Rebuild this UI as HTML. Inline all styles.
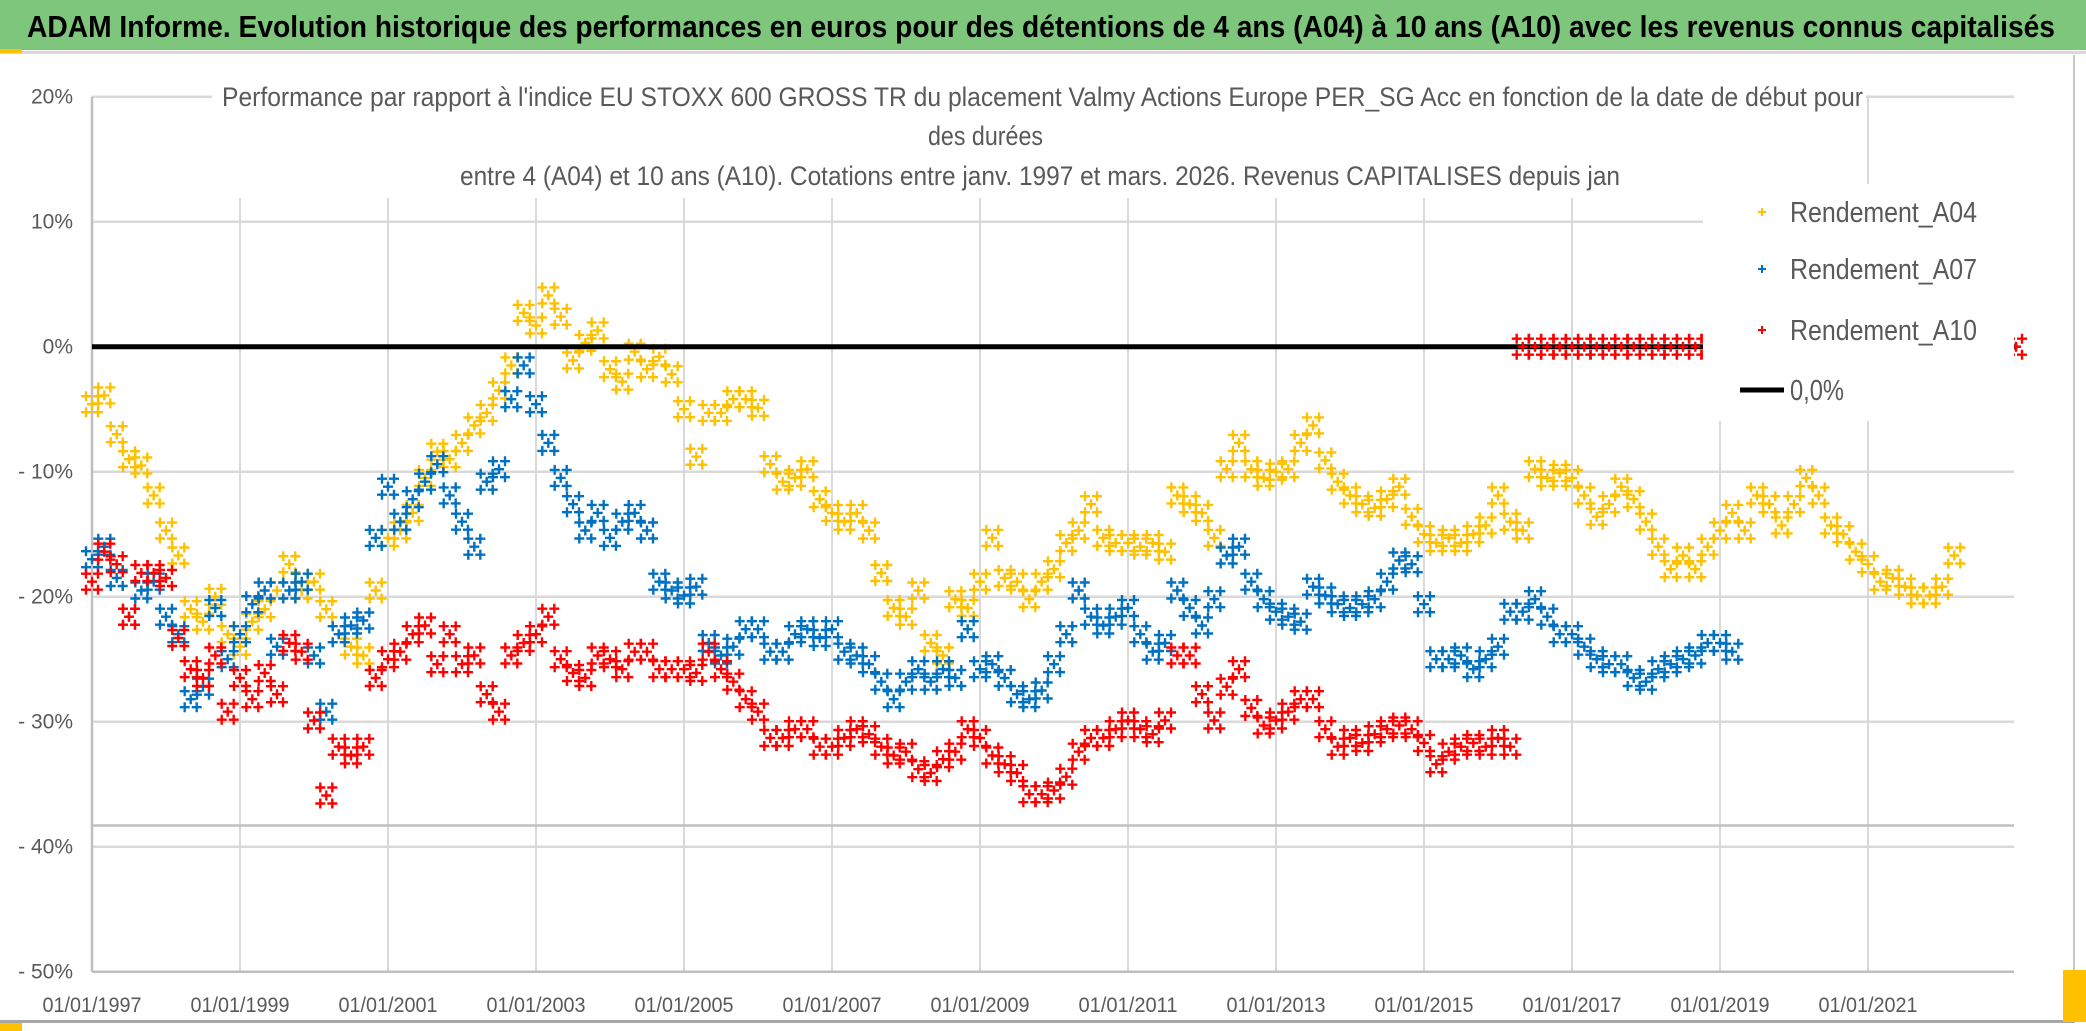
<!DOCTYPE html>
<html><head><meta charset="utf-8">
<style>
html,body{margin:0;padding:0;background:#fff;}
svg{display:block;}
text{font-family:"Liberation Sans",sans-serif;}
</style></head>
<body>
<svg id="chart" width="2086" height="1031" viewBox="0 0 2086 1031" xmlns="http://www.w3.org/2000/svg">
  <rect x="0" y="0" width="2086" height="1031" fill="#fff"/>
  <rect x="0" y="0" width="2086" height="50" fill="#7DC67B"/>
  <rect x="0" y="51" width="2086" height="3" fill="#d9d9d9"/>
  <rect x="0" y="49" width="22" height="4" fill="#FFC000"/>
  <text x="27" y="37" font-size="31" font-weight="bold" fill="#000" textLength="2028" lengthAdjust="spacingAndGlyphs">ADAM Informe. Evolution historique des performances en euros pour des détentions de 4 ans (A04) à 10 ans (A10) avec les revenus connus capitalisés</text>
  <g id="grid"></g>
  <g id="series"></g>
  <rect x="212" y="60" width="1654" height="138" fill="#fff"/>
  <text x="222" y="106" font-size="27" fill="#595959" textLength="1641" lengthAdjust="spacingAndGlyphs">Performance par rapport à l'indice EU STOXX 600 GROSS TR  du placement Valmy Actions Europe PER_SG Acc en fonction de la date de début pour</text>
  <text x="928" y="145" font-size="27" fill="#595959" textLength="115" lengthAdjust="spacingAndGlyphs">des durées</text>
  <text x="460" y="185" font-size="27" fill="#595959" textLength="1160" lengthAdjust="spacingAndGlyphs">entre 4 (A04) et 10 ans (A10). Cotations entre janv. 1997 et mars. 2026. Revenus CAPITALISES depuis jan</text>
  <g id="legend">
    <rect x="1703" y="184" width="311" height="237" fill="#fff"/>
  </g>
  <g id="yaxis"></g>
  <g id="xaxis"></g>
  <rect x="2073" y="55" width="2" height="967" fill="#c8c8c8"/>
  <rect x="0" y="1020" width="2075" height="3" fill="#a6a6a6"/>
  <rect x="2063" y="970" width="23" height="52" fill="#FFC000"/>
  <rect x="0" y="1023" width="22" height="8" fill="#FFC000"/>
</svg>
<script>
const startYear = 1997;
const stepYear = 1/6;
const yTicks = [20, 10, 0, -10, -20, -30, -40, -50];
const yTickLabels = ["20%", "10%", "0%", "- 10%", "- 20%", "- 30%", "- 40%", "- 50%"];
const xTickYears = [1997, 1999, 2001, 2003, 2005, 2007, 2009, 2011, 2013, 2015, 2017, 2019, 2021];
const xTickLabels = ["01/01/1997","01/01/1999","01/01/2001","01/01/2003","01/01/2005","01/01/2007","01/01/2009","01/01/2011","01/01/2013","01/01/2015","01/01/2017","01/01/2019","01/01/2021"];
const refLineValue = -38.3;
const zeroValue = 0;
const zeroEndYear = 2023;
const A04 = [
-4.6,-3.9,-7,-9,-9.5,-11.9,
-14.7,-16.7,-21,-22,-20,-23,
-24,-22,-21,-19.5,-17.4,-19.5,
-18.8,-21,-23,-24,-24.7,-19.5,
-15.3,-14.7,-13.3,-10.5,-8.4,-9,
-7.7,-6.3,-5.3,-3.5,-1.5,2.7,
1.7,4.1,2.4,-1.1,0.3,1.3,
-1.8,-2.8,-0.4,-1.8,-0.8,-2.2,
-5,-8.8,-5.3,-5.3,-4.2,-4.2,
-4.9,-9.4,-10.8,-10.5,-9.8,-12.2,
-13.3,-14,-13.3,-14.7,-18.1,-20.9,
-21.6,-19.5,-23.7,-24.7,-20.2,-20.9,
-18.8,-15.3,-18.5,-18.8,-20.2,-18.8,
-17.8,-15.7,-14.7,-12.6,-15.3,-15.7,
-15.7,-16,-15.7,-16.4,-11.9,-12.6,
-13.3,-15.3,-9.8,-7.7,-9.8,-10.5,
-10,-9.8,-7.7,-6.3,-9.1,-10.8,
-11.9,-12.6,-12.9,-12.2,-11.2,-13.6,
-15,-15.7,-15.3,-15.7,-15,-14.3,
-11.9,-14,-14.7,-9.8,-10.5,-10.1,
-10.5,-11.9,-13.6,-12.6,-11.2,-12.2,
-14,-16,-17.8,-16.7,-17.8,-16,
-14.7,-13.3,-14.7,-11.9,-12.6,-14.3,
-12.6,-10.5,-11.9,-14.3,-15,-16.4,
-17.4,-18.8,-18.5,-19.2,-19.9,-19.9,
-19.2,-16.7];
const A07 = [
-17,-16,-18.5,-21.6,-19.5,-18.8,
-21.6,-23,-28.2,-27.2,-20.9,-25,
-23,-20.6,-19.5,-24,-19.5,-18.8,
-24.7,-29.2,-23,-22.3,-21.9,-15.3,
-11.2,-14,-12.2,-10.8,-9.4,-11.9,
-14,-16,-10.8,-9.8,-4.2,-1.5,
-4.6,-7.7,-10.5,-12.6,-14.7,-13.3,
-15.3,-14,-13.3,-14.7,-18.8,-19.5,
-19.9,-19.2,-23.7,-24.7,-24,-22.6,
-22.6,-24.4,-24.4,-23,-22.6,-23.3,
-22.6,-24.4,-24.7,-25.4,-26.8,-28.2,
-26.8,-25.8,-26.8,-25.8,-26.5,-22.6,
-25.8,-25.4,-26.5,-27.8,-28.2,-27.5,
-25.4,-23,-19.5,-21.6,-22.3,-21.6,
-20.9,-23,-24.4,-23.7,-19.5,-20.9,
-22.3,-20.2,-16.7,-16,-18.8,-20.2,
-21.2,-21.6,-22,-19.2,-19.9,-20.6,
-20.9,-20.6,-20.2,-18.8,-17.1,-17.4,
-20.6,-25,-25,-24.7,-25.8,-25,
-24,-21.2,-21.2,-20.2,-21.6,-23,
-23,-24,-25,-25.4,-25.4,-26.5,
-26.8,-25.8,-25.4,-25,-24.7,-23.7,
-23.7,-24.4];
const A10 = [
-18.8,-16.4,-17.4,-21.6,-18.1,-18.1,
-18.5,-23.3,-25.8,-26.5,-24.7,-29.2,
-26.5,-28.2,-26.1,-27.8,-23.7,-24.4,
-29.9,-35.9,-32,-32.7,-32,-26.5,
-25,-24.4,-23,-22.3,-25.4,-23,
-25.4,-24.7,-27.8,-29.2,-24.7,-23.7,
-23,-21.6,-25,-26.1,-26.5,-24.7,
-25,-25.8,-24.4,-24.4,-25.8,-25.8,
-25.8,-26.1,-24.4,-25.8,-26.8,-28.2,
-29.2,-31.3,-31.3,-30.6,-30.6,-32,
-32,-31.3,-30.6,-31,-32,-32.7,
-32.4,-33.8,-34.1,-33,-32.4,-30.6,
-31.3,-32.7,-33.4,-34.1,-35.8,-35.8,
-35.5,-34.4,-32.4,-31.3,-31.3,-30.6,
-29.9,-30.6,-31,-29.9,-24.7,-24.7,
-27.8,-29.9,-27.2,-25.8,-28.9,-30.3,
-29.9,-29.2,-28.2,-28.2,-30.6,-32,
-31.3,-31.7,-31,-30.6,-30.3,-30.6,
-31.7,-33.4,-32.4,-32,-31.7,-32,
-31.3,-32,0,0,0,0,
0,0,0,0,0,0, 0,0,0,0,0,0, 0,0,0,0,0,0,
0,0,0,0,0,0, 0,0,0,0,0,0, 0,0,0,0,0,0,
0];

const NS = "http://www.w3.org/2000/svg";
const PX0 = 92, PX1 = 2014, PY_TOP = 96.7, PY_BOT = 971.7;
function xScale(year){ return PX0 + (year - 1997) * 74; }
function yScale(v){ return PY_TOP + (20 - v) * 12.5; }
function mk(tag, attrs, parent){
  const e = document.createElementNS(NS, tag);
  for (const k in attrs) e.setAttribute(k, attrs[k]);
  parent.appendChild(e);
  return e;
}
const grid = document.getElementById('grid');
const yaxis = document.getElementById('yaxis');
const xaxis = document.getElementById('xaxis');
const series = document.getElementById('series');
const legend = document.getElementById('legend');

yTicks.forEach((t, i) => {
  const l = mk('line', {x1:PX0, x2:PX1, y1:yScale(t), y2:yScale(t), stroke:'#d9d9d9', 'stroke-width':2.5}, grid);
  
  
  const tx = mk('text', {x:73, y:yScale(t)+7, 'font-size':21, fill:'#595959', 'text-anchor':'end'}, yaxis);
  tx.textContent = yTickLabels[i];
  
  
});
xTickYears.forEach((yr, i) => {
  const x = xScale(yr);
  const top = (x > 212 && x < 1866) ? 198 : PY_TOP;
  const l = mk('line', {x1:x, x2:x, y1:top, y2:PY_BOT, stroke:'#d9d9d9', 'stroke-width':2}, grid);
  
  
  const tx = mk('text', {x:x, y:1012, 'font-size':21, fill:'#595959', 'text-anchor':'middle', textLength:99, lengthAdjust:'spacingAndGlyphs'}, xaxis);
  tx.textContent = xTickLabels[i];
  
  
});
const yAxisLine = mk('line', {x1:PX0, x2:PX0, y1:PY_TOP, y2:PY_BOT, stroke:'#bfbfbf', 'stroke-width':2.5}, grid);


const xAxisLine = mk('line', {x1:PX0, x2:PX1, y1:PY_BOT, y2:PY_BOT, stroke:'#bfbfbf', 'stroke-width':2.5}, grid);


const refLine = mk('line', {x1:PX0, x2:PX1, y1:yScale(refLineValue), y2:yScale(refLineValue), stroke:'#bfbfbf', 'stroke-width':2.5}, grid);



function plusPath(x, y, a){ return `M${(x-a).toFixed(1)} ${y.toFixed(1)}h${2*a}M${x.toFixed(1)} ${(y-a).toFixed(1)}v${2*a}`; }
const clusterOffsets = [[-6,-8],[0,0],[6,8],[-6,8],[6,-8]];
function drawSeries(vals, color, name){
  let d = '';
  vals.forEach((v, i) => {
    const x = xScale(startYear + i*stepYear);
    const y = yScale(v);
    clusterOffsets.forEach(o => { d += plusPath(x + o[0], y + o[1], 5); });
  });
  const p = mk('path', {d:d, stroke:color, 'stroke-width':2.4, fill:'none'}, series);
  
  
}
drawSeries(A04, '#FFC000', 'series-rendement-a04');
drawSeries(A07, '#0070C0', 'series-rendement-a07');
const zl = mk('line', {x1:PX0, x2:xScale(zeroEndYear), y1:yScale(zeroValue), y2:yScale(zeroValue), stroke:'#000', 'stroke-width':5}, series);


drawSeries(A10, '#FF0000', 'series-rendement-a10');
(function(){
  const m = mk('path', {d:plusPath(2016, yScale(zeroValue), 4), stroke:'#FF0000', 'stroke-width':2.6}, series);
  
  
})();

const legendItems = [
  {label:'Rendement_A04', color:'#FFC000', y:212, line:false},
  {label:'Rendement_A07', color:'#0070C0', y:269, line:false},
  {label:'Rendement_A10', color:'#FF0000', y:330, line:false},
  {label:'0,0%', color:'#000', y:390, line:true}
];
legendItems.forEach(it => {
  const g = mk('g', {}, legend);
  
  
  if (it.line) {
    mk('line', {x1:1740, x2:1784, y1:it.y, y2:it.y, stroke:'#000', 'stroke-width':5}, g);
  } else {
    mk('path', {d:plusPath(1762, it.y, 4), stroke:it.color, 'stroke-width':2}, g);
  }
  const t = mk('text', {x:1790, y:it.y+10, 'font-size':29, fill:'#595959'}, g);
  if (!it.line) { t.setAttribute('textLength', 187); t.setAttribute('lengthAdjust', 'spacingAndGlyphs'); }
  else { t.setAttribute('textLength', 54); t.setAttribute('lengthAdjust', 'spacingAndGlyphs'); }
  t.textContent = it.label;
});
</script>
</body></html>
